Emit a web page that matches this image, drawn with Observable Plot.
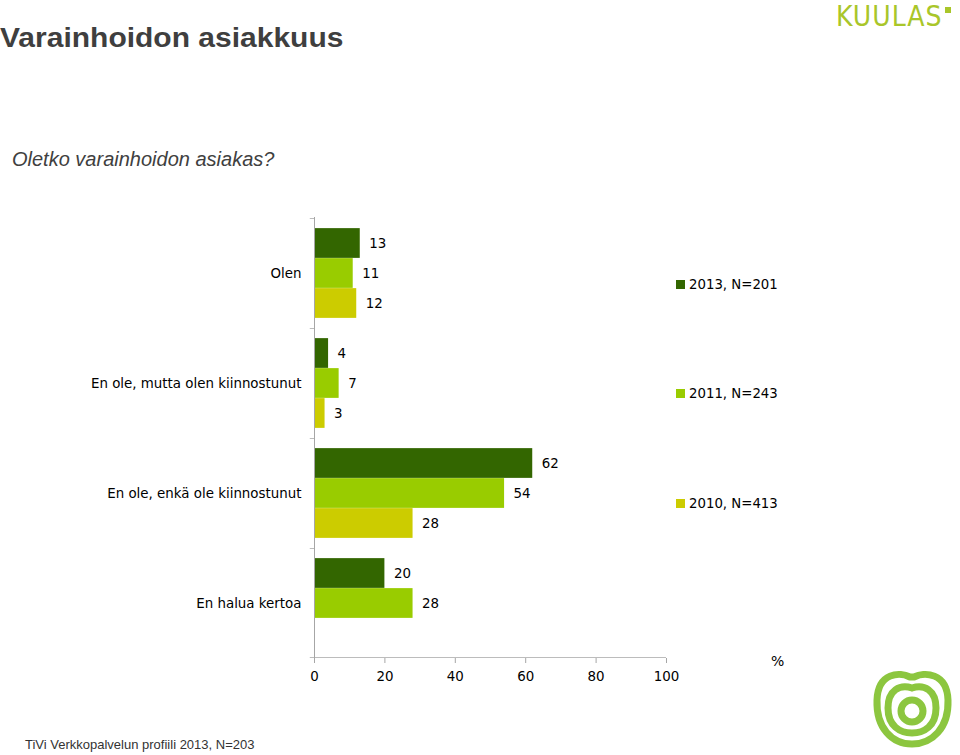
<!DOCTYPE html>
<html>
<head>
<meta charset="utf-8">
<script src="https://cdn.jsdelivr.net/npm/d3@7"></script>
<script src="https://cdn.jsdelivr.net/npm/@observablehq/plot@0.6"></script>
<style>
  html, body { margin: 0; padding: 0; background: #fff; }
  #page { position: relative; width: 960px; height: 755px; overflow: hidden; font-family: "DejaVu Sans", Verdana, sans-serif; }
  .abs { position: absolute; white-space: nowrap; }
  #title { left: 0; top: 22px; font: bold 30px "Liberation Sans", Arial, sans-serif; color: #3f3f3f; transform: scaleY(0.92); transform-origin: left top; }
  #subtitle { left: 12px; top: 148px; font: italic 20px "Liberation Sans Narrow", "Liberation Sans", Arial, sans-serif; color: #404040; }
  #caption { left: 25px; top: 737px; font: 13px "Liberation Sans Narrow", "Liberation Sans", Arial, sans-serif; color: #333; }
  #brand { left: 836px; top: 0px; font: 28px "Liberation Sans Narrow", "DejaVu Sans Condensed", sans-serif; color: #a9c62a; letter-spacing: 1px; }
  #chart { position: absolute; left: 0; top: 207px; }
  .leg { font-size: 13.3px; color: #000; display: flex; align-items: center; }
  .leg span.sw { display: inline-block; width: 9px; height: 9px; margin-right: 4px; }
  #pct { left: 771px; top: 653px; font-size: 14px; color: #000; }
</style>
</head>
<body>
<div id="page">
  <div id="title" class="abs">Varainhoidon asiakkuus</div>
  <div id="subtitle" class="abs">Oletko varainhoidon asiakas?</div>
  <div id="brand" class="abs">KUULAS<span style="display:inline-block;width:6px;height:6px;background:#a9c62a;vertical-align:top;margin-top:7px;margin-left:2px"></span></div>
  <div id="chart"></div>
  <div id="pct" class="abs">%</div>
  <div id="caption" class="abs">TiVi Verkkopalvelun profiili 2013, N=203</div>
  <svg class="abs" style="left:872px;top:670px" width="88" height="80" viewBox="0 0 88 80">
    <g fill="none" stroke="#8cc63f">
      <path d="M38 7 C28 2 6 2 5 30 C4 58 20 74 40 74 C60 74 77 58 76 30 C75 2 52 2 42 7 Z" stroke-width="7"/>
      <path d="M40 18 C28 14 16 20 16 38 C16 56 28 63 40 63 C52 63 64 56 64 38 C64 20 52 14 40 18 Z" stroke-width="7"/>
      <circle cx="40" cy="41" r="11" stroke-width="7"/>
    </g>
  </svg>
</div>
<script>
// ---- data ----
const categories = ["Olen", "En ole, mutta olen kiinnostunut", "En ole, enkä ole kiinnostunut", "En halua kertoa"];
const seriesNames = ["2013, N=201", "2011, N=243", "2010, N=413"];
const values2013 = [13, 4, 62, 20];
const values2011 = [11, 7, 54, 28];
const values2010 = [12, 3, 28, null];
const xTicks = [0, 20, 40, 60, 80, 100];
const seriesColors = ["#336600", "#99cc00", "#cccc00"];

const seriesValues = [values2013, values2011, values2010];
const rows = [];
seriesValues.forEach((vals, si) => vals.forEach((v, ci) => {
  if (v != null) rows.push({category: categories[ci], series: seriesNames[si], si, value: v});
}));

// ---- layout ----
const marginTop = 10, marginLeft = 314, marginRight = 34, marginBottom = 42;
const plotH = 441, width = 700;
const height = marginTop + plotH + marginBottom;
const band = plotH / categories.length;
const barH = 30;
const pad = (band - seriesNames.length * barH) / 2;
const axisColor = "#a6a6a6";
const fs = 13.4;

const barMarks = seriesNames.map((s, i) =>
  Plot.barX(rows.filter(d => d.si === i), {
    x1: 0, x2: "value", y: "category", fill: seriesColors[i],
    insetTop: pad + i * barH, insetBottom: band - pad - (i + 1) * barH
  })
);
const labelMarks = seriesNames.map((s, i) =>
  Plot.text(rows.filter(d => d.si === i), {
    x: "value", y: "category", text: d => String(d.value),
    textAnchor: "start", dx: 9, dy: (i - (seriesNames.length - 1) / 2) * barH,
    fill: "#000", fontSize: fs
  })
);

const chart = Plot.plot({
  width, height, marginTop, marginLeft, marginRight, marginBottom,
  style: {fontFamily: "DejaVu Sans, Verdana, sans-serif", fontSize: fs + "px", color: "#000", background: "transparent"},
  x: {domain: [0, 100], axis: null},
  y: {domain: categories, padding: 0, axis: null},
  marks: [
    ...barMarks,
    ...labelMarks,
    // left axis line
    Plot.ruleX([0], {stroke: axisColor}),
    // boundary ticks at the top of each band
    Plot.barX(categories, {x1: -1.2, x2: 0, y: d => d, fill: axisColor, insetBottom: band - 1}),
    // bottom axis line (with left tick)
    Plot.barX([categories[categories.length - 1]], {x1: -1.2, x2: 100, y: d => d, fill: axisColor, insetTop: band - 1}),
    Plot.axisX({ticks: xTicks, tickSize: 5, tickPadding: 8, label: null, stroke: axisColor, fill: "#000", fontSize: fs}),
    Plot.axisY({tickSize: 0, tickPadding: 13, label: null, fill: "#000", fontSize: fs})
  ]
});
document.getElementById("chart").appendChild(chart);

// legend
const legTops = [284, 393, 503];
const page = document.getElementById("page");
seriesNames.forEach((s, i) => {
  const el = document.createElement("div");
  el.className = "abs leg";
  el.style.left = "676px";
  el.style.top = (legTops[i] - 9) + "px";
  el.style.height = "18px";
  el.innerHTML = `<span class="sw" style="background:${seriesColors[i]}"></span><span>${s}</span>`;
  page.appendChild(el);
});
</script>
</body>
</html>
